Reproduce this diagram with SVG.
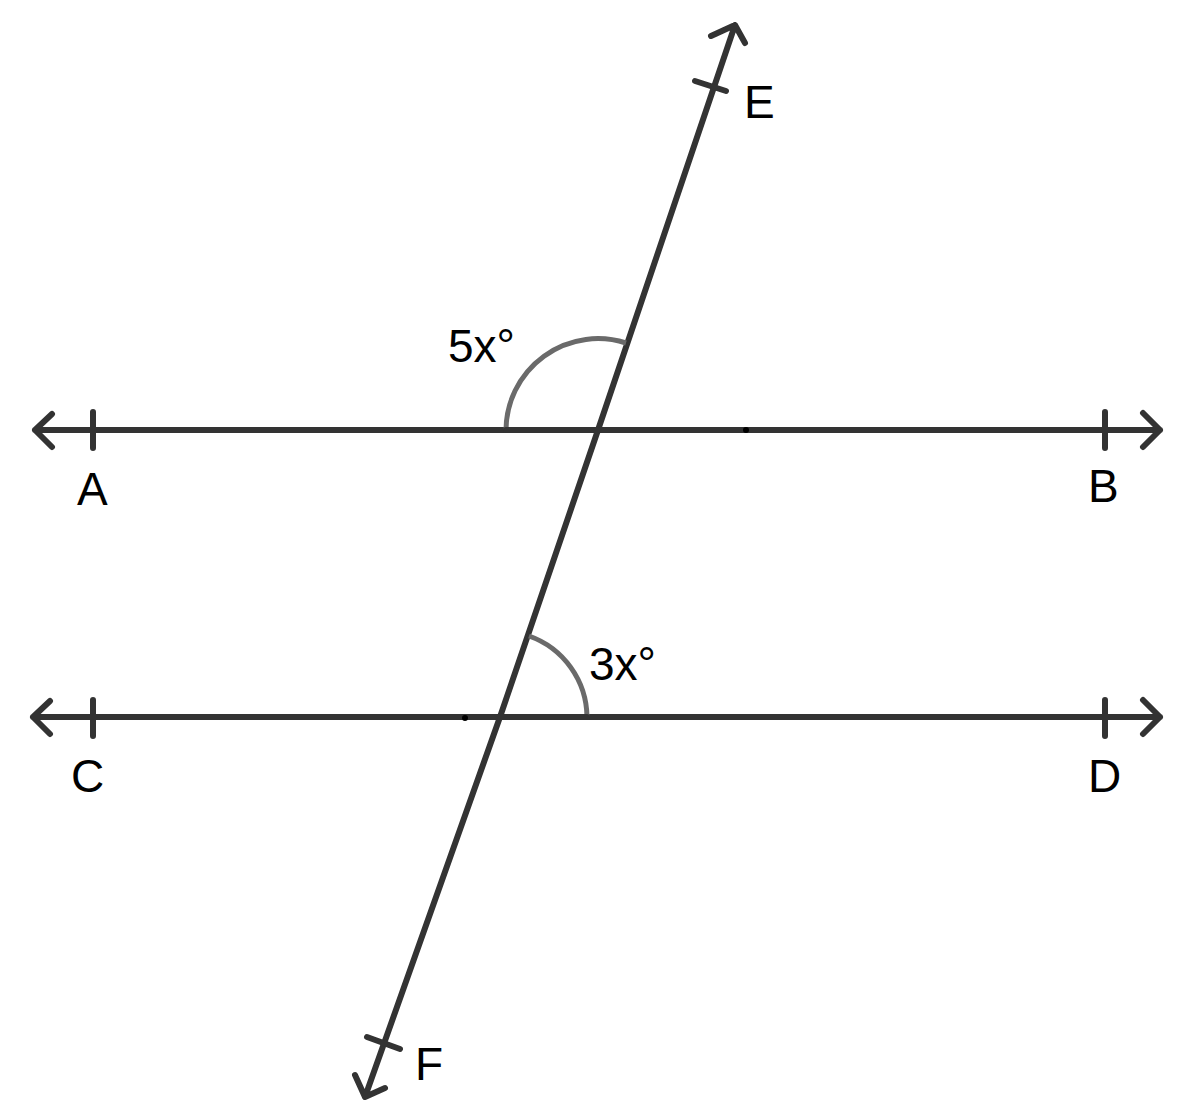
<svg xmlns="http://www.w3.org/2000/svg" width="1181" height="1119" viewBox="0 0 1181 1119">
<style>
.l{stroke:#333;stroke-width:6;fill:none;stroke-linecap:round;stroke-linejoin:round}
.a{stroke:#6a6a6a;stroke-width:5;fill:none}
text{font-family:"Liberation Sans",Arial,sans-serif;font-size:46px;fill:#000}
</style>
<rect width="1181" height="1119" fill="#fff"/>
<g id="connectors">
<path class="l" d="M35 430H1160M52 414L35 430L52 447M1143 413L1160 430L1143 447"/>
<path class="l" d="M33 717H1160M50 701L33 717L50 734M1143 700L1160 717L1143 734"/>
<path class="l" d="M735 25L598 430L500 717L365 1097M711 36L735 25L745 43M355 1075L365 1097L385 1088"/>
<path class="l" d="M93 412V448M1105 412V448M93 700V736M1105 700V736M695 81L726 91M367 1037L400 1049"/>
<path class="a" d="M506 430A92 92 0 0 1 626 343"/>
<path class="a" d="M587 717A87 87 0 0 0 529 636"/>
<path class="l" d="M506 430H598M500 717H587"/>
<circle cx="746" cy="430" r="3" fill="#000"/>
<circle cx="465" cy="718" r="3" fill="#000"/>
</g>
<g id="labels">
<text x="744" y="118">E</text>
<text x="77" y="505">A</text>
<text x="1088" y="502">B</text>
<text x="71" y="792">C</text>
<text x="1088" y="792">D</text>
<text x="415" y="1080">F</text>
<text x="448" y="362">5x°</text>
<text x="589" y="680">3x°</text>
</g>
</svg>
